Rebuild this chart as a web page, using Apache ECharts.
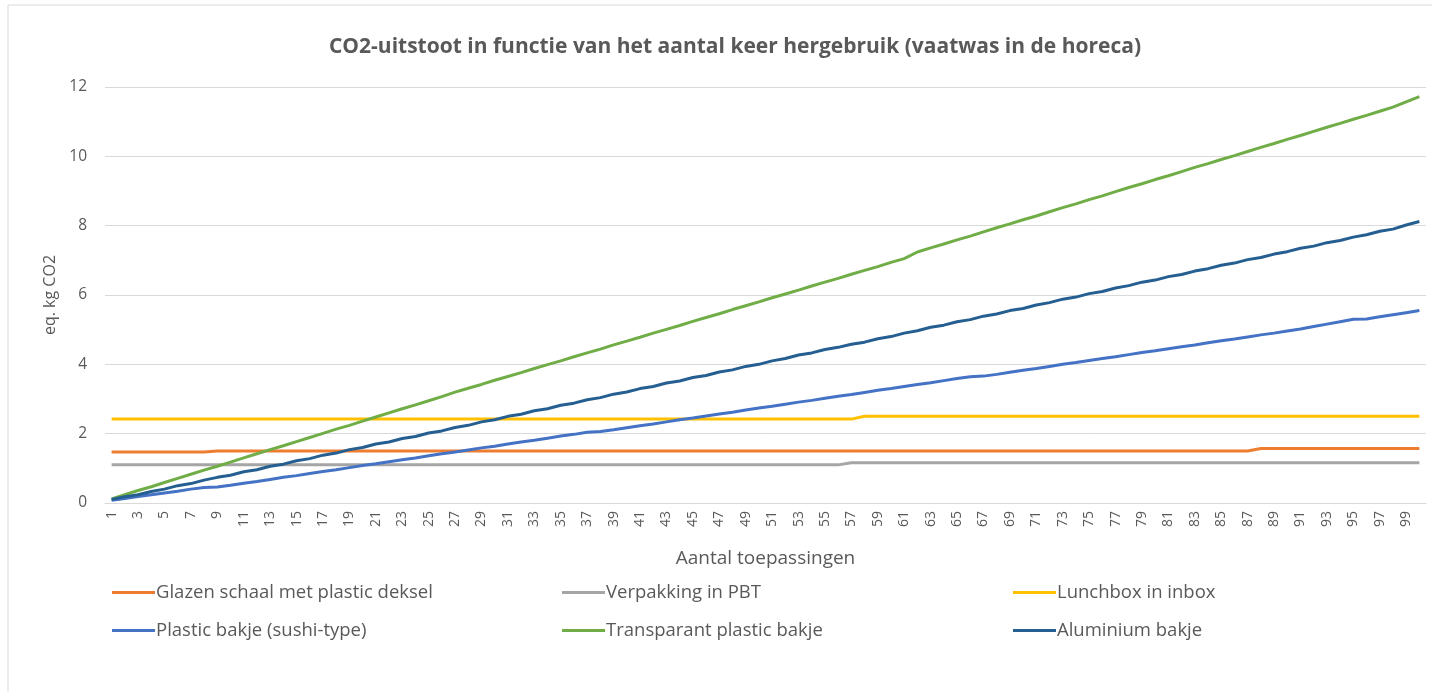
<!DOCTYPE html>
<html>
<head>
    <meta charset="utf-8">
    <title>CO2-uitstoot</title>
    <script src="https://cdn.jsdelivr.net/npm/echarts@6/dist/echarts.min.js"></script>
    <style>
        html, body {
            margin: 0;
            padding: 0;
            background: #fff;
        }
        #main {
            width: 1432px;
            height: 692px;
        }
    </style>
</head>
<body>
<div id="main"></div>
<script>
    // 1 .. 100 keer hergebruikt
    var toepassingen = [];
    for (var i = 1; i <= 100; i++) toepassingen.push(String(i));

    var glazenSchaal = [
        1.47, 1.47, 1.47, 1.47, 1.47, 1.47, 1.47, 1.47, 1.50, 1.50,
        1.50, 1.50, 1.50, 1.50, 1.50, 1.50, 1.50, 1.50, 1.50, 1.50,
        1.50, 1.50, 1.50, 1.50, 1.50, 1.50, 1.50, 1.50, 1.50, 1.50,
        1.50, 1.50, 1.50, 1.50, 1.50, 1.50, 1.50, 1.50, 1.50, 1.50,
        1.50, 1.50, 1.50, 1.50, 1.50, 1.50, 1.50, 1.50, 1.50, 1.50,
        1.50, 1.50, 1.50, 1.50, 1.50, 1.50, 1.50, 1.50, 1.50, 1.50,
        1.50, 1.50, 1.50, 1.50, 1.50, 1.50, 1.50, 1.50, 1.50, 1.50,
        1.50, 1.50, 1.50, 1.50, 1.50, 1.50, 1.50, 1.50, 1.50, 1.50,
        1.50, 1.50, 1.50, 1.50, 1.50, 1.50, 1.50, 1.57, 1.57, 1.57,
        1.57, 1.57, 1.57, 1.57, 1.57, 1.57, 1.57, 1.57, 1.57, 1.57
    ];
    var verpakkingPBT = [
        1.10, 1.10, 1.10, 1.10, 1.10, 1.10, 1.10, 1.10, 1.10, 1.10,
        1.10, 1.10, 1.10, 1.10, 1.10, 1.10, 1.10, 1.10, 1.10, 1.10,
        1.10, 1.10, 1.10, 1.10, 1.10, 1.10, 1.10, 1.10, 1.10, 1.10,
        1.10, 1.10, 1.10, 1.10, 1.10, 1.10, 1.10, 1.10, 1.10, 1.10,
        1.10, 1.10, 1.10, 1.10, 1.10, 1.10, 1.10, 1.10, 1.10, 1.10,
        1.10, 1.10, 1.10, 1.10, 1.10, 1.10, 1.16, 1.16, 1.16, 1.16,
        1.16, 1.16, 1.16, 1.16, 1.16, 1.16, 1.16, 1.16, 1.16, 1.16,
        1.16, 1.16, 1.16, 1.16, 1.16, 1.16, 1.16, 1.16, 1.16, 1.16,
        1.16, 1.16, 1.16, 1.16, 1.16, 1.16, 1.16, 1.16, 1.16, 1.16,
        1.16, 1.16, 1.16, 1.16, 1.16, 1.16, 1.16, 1.16, 1.16, 1.16
    ];
    var lunchbox = [
        2.42, 2.42, 2.42, 2.42, 2.42, 2.42, 2.42, 2.42, 2.42, 2.42,
        2.42, 2.42, 2.42, 2.42, 2.42, 2.42, 2.42, 2.42, 2.42, 2.42,
        2.42, 2.42, 2.42, 2.42, 2.42, 2.42, 2.42, 2.42, 2.42, 2.42,
        2.42, 2.42, 2.42, 2.42, 2.42, 2.42, 2.42, 2.42, 2.42, 2.42,
        2.42, 2.42, 2.42, 2.42, 2.42, 2.42, 2.42, 2.42, 2.42, 2.42,
        2.42, 2.42, 2.42, 2.42, 2.42, 2.42, 2.42, 2.50, 2.50, 2.50,
        2.50, 2.50, 2.50, 2.50, 2.50, 2.50, 2.50, 2.50, 2.50, 2.50,
        2.50, 2.50, 2.50, 2.50, 2.50, 2.50, 2.50, 2.50, 2.50, 2.50,
        2.50, 2.50, 2.50, 2.50, 2.50, 2.50, 2.50, 2.50, 2.50, 2.50,
        2.50, 2.50, 2.50, 2.50, 2.50, 2.50, 2.50, 2.50, 2.50, 2.50
    ];
    var plasticSushi = [
        0.08, 0.13, 0.19, 0.24, 0.29, 0.34, 0.40, 0.45, 0.46, 0.51,
        0.57, 0.62, 0.68, 0.74, 0.79, 0.85, 0.91, 0.96, 1.02, 1.08,
        1.13, 1.19, 1.25, 1.30, 1.36, 1.42, 1.47, 1.53, 1.59, 1.64,
        1.70, 1.76, 1.81, 1.87, 1.93, 1.98, 2.04, 2.06, 2.11, 2.17,
        2.23, 2.28, 2.34, 2.40, 2.45, 2.51, 2.57, 2.62, 2.68, 2.74,
        2.79, 2.85, 2.91, 2.96, 3.02, 3.08, 3.13, 3.19, 3.25, 3.30,
        3.36, 3.42, 3.47, 3.53, 3.59, 3.64, 3.66, 3.71, 3.77, 3.83,
        3.88, 3.94, 4.00, 4.05, 4.11, 4.17, 4.22, 4.28, 4.34, 4.39,
        4.45, 4.51, 4.56, 4.62, 4.68, 4.73, 4.79, 4.85, 4.90, 4.96,
        5.02, 5.09, 5.16, 5.23, 5.30, 5.31, 5.37, 5.43, 5.49, 5.55
    ];
    var transparant = [
        0.12, 0.24, 0.36, 0.47, 0.59, 0.71, 0.83, 0.95, 1.06, 1.18,
        1.30, 1.42, 1.54, 1.65, 1.77, 1.89, 2.01, 2.13, 2.24, 2.36,
        2.48, 2.60, 2.72, 2.83, 2.95, 3.07, 3.20, 3.31, 3.42, 3.54,
        3.65, 3.76, 3.88, 3.99, 4.10, 4.22, 4.33, 4.44, 4.56, 4.67,
        4.78, 4.90, 5.01, 5.12, 5.24, 5.35, 5.46, 5.58, 5.69, 5.80,
        5.92, 6.03, 6.14, 6.26, 6.37, 6.48, 6.60, 6.71, 6.82, 6.94,
        7.05, 7.24, 7.36, 7.47, 7.59, 7.70, 7.82, 7.94, 8.05, 8.17,
        8.28, 8.40, 8.52, 8.63, 8.75, 8.86, 8.98, 9.10, 9.21, 9.33,
        9.44, 9.56, 9.68, 9.79, 9.91, 10.02, 10.14, 10.26, 10.37, 10.49,
        10.60, 10.72, 10.84, 10.95, 11.07, 11.18, 11.30, 11.42, 11.57, 11.72
    ];
    var aluminium = [
        0.10, 0.18, 0.24, 0.33, 0.40, 0.50, 0.56, 0.66, 0.74, 0.80,
        0.90, 0.96, 1.06, 1.12, 1.22, 1.28, 1.38, 1.44, 1.54, 1.60,
        1.70, 1.76, 1.86, 1.92, 2.02, 2.08, 2.18, 2.24, 2.34, 2.40,
        2.50, 2.56, 2.66, 2.72, 2.82, 2.88, 2.98, 3.04, 3.14, 3.20,
        3.30, 3.36, 3.46, 3.52, 3.62, 3.68, 3.78, 3.84, 3.94, 4.00,
        4.10, 4.17, 4.27, 4.33, 4.43, 4.49, 4.58, 4.64, 4.74, 4.80,
        4.90, 4.97, 5.07, 5.13, 5.23, 5.29, 5.39, 5.45, 5.55, 5.61,
        5.71, 5.78, 5.88, 5.94, 6.04, 6.10, 6.20, 6.27, 6.37, 6.43,
        6.53, 6.59, 6.69, 6.76, 6.86, 6.92, 7.02, 7.08, 7.18, 7.25,
        7.35, 7.41, 7.51, 7.57, 7.67, 7.74, 7.84, 7.90, 8.02, 8.12
    ];

    var reeksen = [
        {name: 'Glazen schaal met plastic deksel', data: glazenSchaal, color: '#ED7D31'},
        {name: 'Verpakking in PBT', data: verpakkingPBT, color: '#A5A5A5'},
        {name: 'Lunchbox in inbox', data: lunchbox, color: '#FFC000'},
        {name: 'Plastic bakje (sushi-type)', data: plasticSushi, color: '#4472C4'},
        {name: 'Transparant plastic bakje', data: transparant, color: '#70AD47'},
        {name: 'Aluminium bakje', data: aluminium, color: '#255E91'}
    ];

    var tekstKleur = '#595959';
    var font = '"Open Sans", Lato, sans-serif';

    function legenda(left, namen) {
        return {
            orient: 'vertical',
            left: left,
            top: 578,
            itemGap: 19,
            itemWidth: 43,
            itemHeight: 3,
            icon: 'rect',
            selectedMode: false,
            textStyle: {color: tekstKleur, fontSize: 18.5, fontFamily: font, padding: [0, 0, 0, -4]},
            data: namen
        };
    }

    var myChart = echarts.init(document.getElementById('main'));
    myChart.setOption({
        backgroundColor: '#fff',
        animation: false,
        title: {
            text: 'CO2-uitstoot in functie van het aantal keer hergebruik (vaatwas in de horeca)',
            left: 730,
            top: 32,
            textAlign: 'center',
            textStyle: {color: tekstKleur, fontSize: 21, fontWeight: 'bold', fontFamily: font}
        },
        graphic: [{
            type: 'rect',
            shape: {x: 8, y: 5, width: 1440, height: 700},
            style: {fill: 'none', stroke: '#d9d9d9', lineWidth: 1},
            silent: true
        }],
        legend: [
            legenda(107, [reeksen[0].name, reeksen[3].name]),
            legenda(557, [reeksen[1].name, reeksen[4].name]),
            legenda(1008, [reeksen[2].name, reeksen[5].name])
        ],
        grid: {left: 105, right: 6, top: 87, bottom: 189},
        xAxis: {
            type: 'category',
            boundaryGap: true,
            data: toepassingen,
            name: 'Aantal toepassingen',
            nameLocation: 'middle',
            nameGap: 46,
            nameTextStyle: {color: tekstKleur, fontSize: 19, fontFamily: font},
            axisLine: {lineStyle: {color: '#d9d9d9'}},
            axisTick: {show: false},
            axisLabel: {
                interval: 1,
                rotate: 90,
                margin: 8,
                color: tekstKleur,
                fontSize: 14,
                fontFamily: font
            }
        },
        yAxis: {
            type: 'value',
            min: 0,
            max: 12,
            interval: 2,
            name: 'eq. kg CO2',
            nameLocation: 'middle',
            nameGap: 44,
            nameTextStyle: {color: tekstKleur, fontSize: 16, fontFamily: font},
            axisLine: {show: false},
            axisTick: {show: false},
            axisLabel: {color: tekstKleur, fontSize: 15.5, fontFamily: font, margin: 18},
            splitLine: {lineStyle: {color: '#d9d9d9', width: 1}}
        },
        series: reeksen.map(function (r) {
            return {
                name: r.name,
                type: 'line',
                data: r.data,
                symbol: 'none',
                color: r.color,
                lineStyle: {width: 3, color: r.color}
            };
        })
    });
</script>
</body>
</html>
